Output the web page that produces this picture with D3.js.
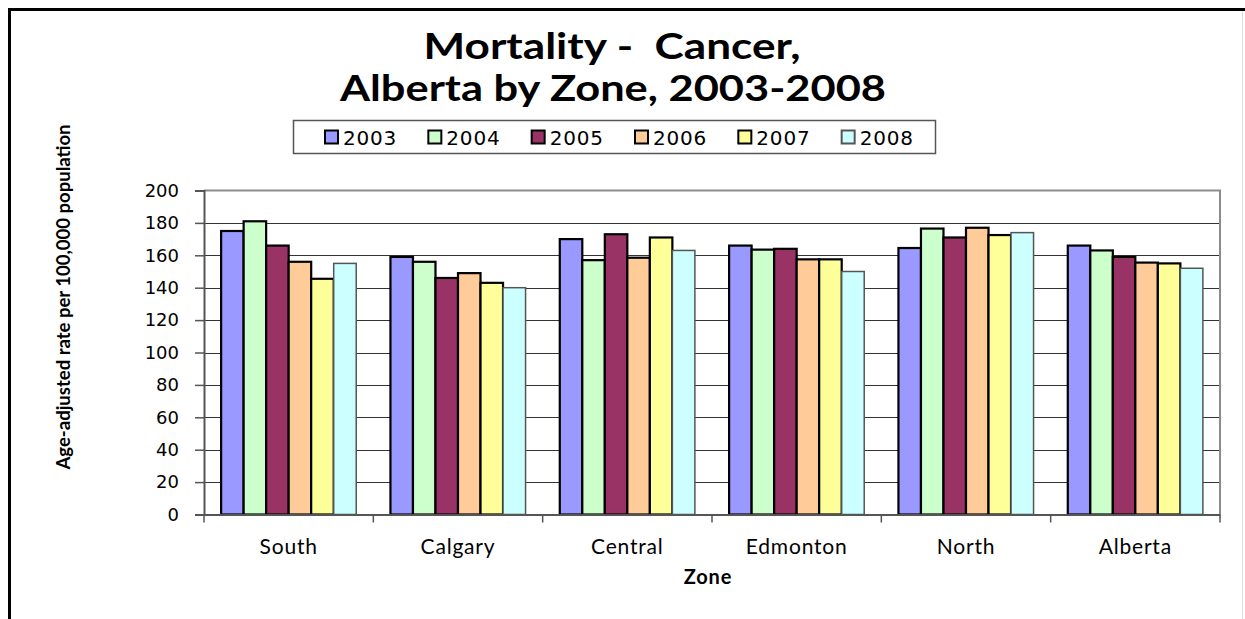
<!DOCTYPE html>
<html>
<head>
<meta charset="utf-8">
<script src="https://cdn.jsdelivr.net/npm/d3@7"></script>
<style>
  body { margin: 0; background: #fff; }
  svg { display: block; }
  .tick text { fill: #000; }
</style>
</head>
<body>
<svg id="chart" width="1245" height="619"></svg>
<script>
// data
var zones = ["South", "Calgary", "Central", "Edmonton", "North", "Alberta"];
var years = ["2003", "2004", "2005", "2006", "2007", "2008"];
var colors = ["#9999ff", "#ccffcc", "#993366", "#ffcc99", "#ffff99", "#ccffff"];
var yTicks = [0, 20, 40, 60, 80, 100, 120, 140, 160, 180, 200];

var v2003 = [175, 159, 170, 166, 164.5, 166];
var v2004 = [181, 156, 157, 163.5, 176.5, 163];
var v2005 = [166, 146, 173, 164, 171, 159];
var v2006 = [156, 149, 158.5, 157.5, 177, 155.5];
var v2007 = [145.5, 143, 171, 157.5, 172.5, 155];
var v2008 = [155, 140, 163, 150, 174, 152];
var series = [v2003, v2004, v2005, v2006, v2007, v2008];

var svg = d3.select("#chart");

// outer frame (top + left heavy, right faint)
svg.append("line").attr("x1", 8).attr("y1", 9.5).attr("x2", 1245).attr("y2", 9.5)
  .attr("stroke", "#000").attr("stroke-width", 3);
svg.append("line").attr("x1", 9.5).attr("y1", 8).attr("x2", 9.5).attr("y2", 619)
  .attr("stroke", "#000").attr("stroke-width", 3);
svg.append("line").attr("x1", 1242.5).attr("y1", 11).attr("x2", 1242.5).attr("y2", 619)
  .attr("stroke", "#ddd").attr("stroke-width", 1);

var pLeft = 204, pRight = 1220, pTop = 190.5, pBottom = 514.5;

var x0 = d3.scaleBand().domain(zones).range([pLeft, pRight]);
var x1 = d3.scaleBand().domain(years).range([0, x0.bandwidth()]).paddingOuter(0.76);
var y = d3.scaleLinear().domain([0, 200]).range([pBottom, pTop]);

// gridlines
svg.append("g").selectAll("line").data(yTicks.filter(function(d) { return d > 0 && d < 200; }))
  .enter().append("line")
  .attr("x1", pLeft).attr("x2", pRight)
  .attr("y1", function(d) { return Math.round(y(d)) + 0.5; })
  .attr("y2", function(d) { return Math.round(y(d)) + 0.5; })
  .attr("stroke", "#333").attr("stroke-width", 1);

// plot border top/right
svg.append("path")
  .attr("d", "M" + pLeft + "," + pTop + "H" + pRight + "V" + pBottom)
  .attr("fill", "none").attr("stroke", "#8c8c8c").attr("stroke-width", 2);

// bars
var groups = svg.append("g").selectAll("g").data(zones).enter().append("g")
  .attr("transform", function(d) { return "translate(" + x0(d) + ",0)"; });

groups.selectAll("rect")
  .data(function(z, zi) { return years.map(function(yr, i) { return {year: yr, i: i, v: series[i][zi]}; }); })
  .enter().append("rect")
  .attr("x", function(d) { return x1(d.year); })
  .attr("width", x1.bandwidth())
  .attr("y", function(d) { return y(d.v); })
  .attr("height", function(d) { return pBottom - y(d.v); })
  .attr("fill", function(d) { return colors[d.i]; })
  .attr("stroke", function(d) { return d.i == 5 ? "#555" : "#000"; })
  .attr("stroke-width", function(d) { return d.i == 5 ? 1.5 : 2.2; });

// y axis
var yAxis = svg.append("g").attr("transform", "translate(" + pLeft + ",0)")
  .call(d3.axisLeft(y).tickValues(yTicks).tickSize(9).tickPadding(16));
yAxis.selectAll("text").attr("font-family", "DejaVu Sans").attr("font-size", 18);
yAxis.select(".domain").attr("stroke", "#555").attr("stroke-width", 2);
yAxis.selectAll(".tick line").attr("stroke", "#555").attr("stroke-width", 1.5);

// x axis
var xAxis = svg.append("g").attr("transform", "translate(0," + pBottom + ")")
  .call(d3.axisBottom(x0).tickSize(0).tickPadding(25));
xAxis.select(".domain").attr("stroke", "#555").attr("stroke-width", 2);
xAxis.selectAll("text").attr("font-family", "Lato").attr("font-size", 21).attr("letter-spacing", 0.8);
xAxis.selectAll(".sep").data(zones.concat(["end"])).enter().append("line")
  .attr("class", "sep")
  .attr("x1", function(d, i) { return i < zones.length ? x0(d) : pRight; })
  .attr("x2", function(d, i) { return i < zones.length ? x0(d) : pRight; })
  .attr("y1", 0).attr("y2", 8)
  .attr("stroke", "#555").attr("stroke-width", 1.5);

// title
var title = svg.append("text").attr("text-anchor", "middle")
  .attr("font-family", "Lato").attr("font-weight", "bold").attr("font-size", 36);
title.append("tspan").attr("x", 612).attr("y", 59).attr("xml:space", "preserve")
  .attr("textLength", 377).attr("lengthAdjust", "spacingAndGlyphs").text("Mortality -  Cancer,");
title.append("tspan").attr("x", 613).attr("y", 101)
  .attr("textLength", 546).attr("lengthAdjust", "spacingAndGlyphs").text("Alberta by Zone, 2003-2008");

// axis titles
svg.append("text")
  .attr("transform", "translate(70,297) rotate(-90)")
  .attr("text-anchor", "middle")
  .attr("font-family", "Lato").attr("font-weight", "bold").attr("font-size", 19)
  .attr("textLength", 345).attr("lengthAdjust", "spacingAndGlyphs")
  .text("Age-adjusted rate per 100,000 population");

svg.append("text")
  .attr("x", 708).attr("y", 584).attr("text-anchor", "middle")
  .attr("font-family", "Lato").attr("font-weight", "bold").attr("font-size", 20)
  .attr("letter-spacing", 0.8)
  .text("Zone");

// legend
svg.append("rect").attr("x", 293.5).attr("y", 120.5).attr("width", 642).attr("height", 33)
  .attr("fill", "#fff").attr("stroke", "#555").attr("stroke-width", 1.5);

var lx = d3.scaleBand().domain(years).range([325, 945]);
var leg = svg.append("g").selectAll("g").data(years).enter().append("g")
  .attr("transform", function(d) { return "translate(" + lx(d) + ",0)"; });
leg.append("rect").attr("x", 0).attr("y", 130.5).attr("width", 13).attr("height", 13)
  .attr("fill", function(d, i) { return colors[i]; })
  .attr("stroke", function(d, i) { return i == 5 ? "#555" : "#000"; })
  .attr("stroke-width", 2);
leg.append("text").attr("x", 18).attr("y", 144.5)
  .attr("font-family", "DejaVu Sans").attr("font-size", 20)
  .attr("letter-spacing", 0.8)
  .text(function(d) { return d; });
</script>
</body>
</html>
